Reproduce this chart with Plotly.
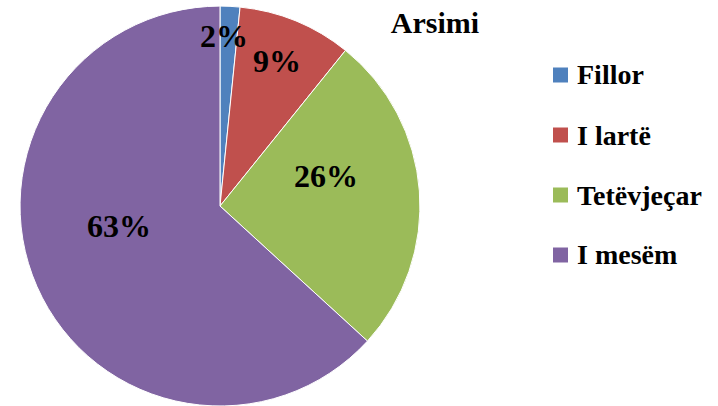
import math
import plotly.graph_objects as go

labels = ["Fillor", "I lartë", "Tetëvjeçar", "I mesëm"]
values = [1.6, 9.2, 26.0, 63.2]
colors = ["#4F81BD", "#C0504D", "#9BBB59", "#8064A2"]
title_text = "Arsimi"

W, H = 718, 406
FONT = "Liberation Serif"

x0, x1 = 20 / W, 420 / W
y0, y1 = 0.0, 0.985

fig = go.Figure(go.Pie(
    labels=labels, values=values, sort=False, direction="clockwise", rotation=0,
    marker=dict(colors=colors, line=dict(color="#FFFFFF", width=1)),
    textinfo="none", showlegend=False, hoverinfo="label+percent",
    domain=dict(x=[x0, x1], y=[y0, y1]),
))

# pie geometry in pixels
cx = (x0 + x1) / 2 * W
cy = H - (y0 + y1) / 2 * H
R = min((x1 - x0) * W, (y1 - y0) * H) / 2

total = sum(values)
label_r = [0.85, 0.78, 0.55, 0.515]      # label distance, fraction of radius
label_dang = [-1.4, -0.7, -11.5, 12.6]    # angular nudge from slice middle, degrees
annotations = []
cum = 0.0
for i, v in enumerate(values):
    mid = (cum + v / 2) / total * 360 + label_dang[i]
    cum += v
    a = math.radians(mid)
    px = cx + label_r[i] * R * math.sin(a)
    py = cy - label_r[i] * R * math.cos(a)
    annotations.append(dict(
        x=px / W, y=1 - py / H, xref="paper", yref="paper",
        text=f"<b>{round(v / total * 100)}%</b>", showarrow=False,
        font=dict(family=FONT, size=32, color="#000000"),
        xanchor="center", yanchor="middle",
    ))

shapes = []
for i, (lab, col) in enumerate(zip(labels, colors)):
    yc = 75 + 60 * i
    shapes.append(dict(type="rect", xref="paper", yref="paper",
                       x0=553 / W, x1=568 / W, y0=1 - (yc + 7.5) / H, y1=1 - (yc - 7.5) / H,
                       fillcolor=col, line=dict(width=0)))
    annotations.append(dict(
        x=575 / W, y=1 - yc / H, xref="paper", yref="paper",
        text=f"<b>{lab}</b>", showarrow=False,
        font=dict(family=FONT, size=28, color="#000000"),
        xanchor="left", yanchor="middle",
    ))

fig.update_layout(
    width=W, height=H,
    margin=dict(l=0, r=0, t=0, b=0),
    paper_bgcolor="#FFFFFF", plot_bgcolor="#FFFFFF",
    title=dict(text=f"<b>{title_text}</b>", x=435 / W, y=1 - 22 / H,
               xanchor="center", yanchor="middle",
               font=dict(family=FONT, size=30, color="#000000")),
    annotations=annotations, shapes=shapes,
)

fig.write_html("out.html", config={"displayModeBar": False},
               post_script="document.body.style.margin='0';document.body.style.padding='0';")
